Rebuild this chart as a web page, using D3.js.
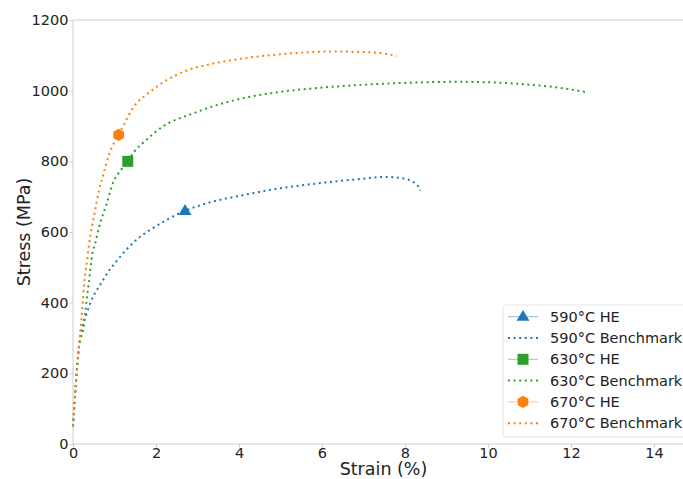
<!DOCTYPE html>
<html>
<head>
<meta charset="utf-8">
<script src="https://cdn.jsdelivr.net/npm/d3@7"></script>
<style>
  body { margin: 0; background: #fff; }
  svg { font-family: "DejaVu Sans", sans-serif; }
</style>
</head>
<body>
<svg id="chart" width="683" height="479"></svg>
<script>
// benchmark curves (strain %, stress MPa)
const strain590 = [0, 0.07, 0.14, 0.22, 0.33, 0.43, 0.55, 0.70, 0.85, 1.04, 1.21, 1.5, 1.86, 2.3, 2.7, 3.3, 4.0, 5.0, 6.0, 7.0, 7.5, 7.9, 8.19, 8.3, 8.37]
const stress590 = [50, 172, 271, 330, 370, 403, 431, 459, 488, 516, 540, 575, 606, 637, 660, 684, 702, 724, 739, 751, 756, 753, 742, 733, 717]

const strain630 = [0, 0.07, 0.14, 0.19, 0.27, 0.31, 0.38, 0.47, 0.54, 0.63, 0.80, 0.96, 1.16, 1.32, 1.48, 1.76, 2.16, 2.9, 3.46, 4.19, 5.47, 6.5, 8.0, 9.24, 10.2, 11.08, 11.8, 12.36]
const stress630 = [50, 172, 271, 300, 341, 389, 455, 540, 570, 615, 676, 738, 776, 800, 828, 860, 898, 936, 959, 981, 1003, 1013, 1022, 1025, 1023, 1016, 1007, 996]

const strain670 = [0, 0.07, 0.14, 0.19, 0.23, 0.27, 0.33, 0.39, 0.51, 0.63, 0.75, 0.88, 1.10, 1.24, 1.44, 1.86, 2.26, 2.74, 3.30, 3.86, 4.27, 5.0, 6.23, 7.07, 7.5, 7.8]
const stress670 = [50, 172, 271, 337, 393, 455, 511, 568, 648, 719, 771, 823, 875, 907, 950, 997, 1030, 1057, 1075, 1087, 1094, 1103, 1111, 1109, 1105, 1098]

// HE single points
const heStrain = [2.7, 1.32, 1.10]
const heStress = [660, 800, 875]

const temps = ['590°C', '630°C', '670°C']
const colors = ['#1f77b4', '#2ca02c', '#ff7f0e']
const markerTypes = ['triangle', 'square', 'hexagon']

const xTicks = [0, 2, 4, 6, 8, 10, 12, 14]
const yTicks = [0, 200, 400, 600, 800, 1000, 1200]

const svg = d3.select('#chart')
const margin = { left: 73, top: 20, right: 0, bottom: 35 }
const width = 683, height = 479

// the axes box runs a little past the window's right edge
let x = d3.scaleLinear().domain([0, 14.7]).range([margin.left, width])
let y = d3.scaleLinear().domain([0, 1200]).range([height - margin.bottom, margin.top])

const spine = '#cccccc'

// axes
let xAxis = svg.append('g')
  .attr('transform', `translate(0,${y(0)})`)
  .call(d3.axisBottom(x).tickValues(xTicks).tickFormat(d3.format('d')).tickSize(3.5).tickPadding(0.5))
let yAxis = svg.append('g')
  .attr('transform', `translate(${x(0)},0)`)
  .call(d3.axisLeft(y).tickValues(yTicks).tickFormat(d3.format('d')).tickSize(3.5).tickPadding(1))

;[xAxis, yAxis].forEach(ax => {
  ax.select('.domain').remove()
  ax.selectAll('.tick line').attr('stroke', spine)
  ax.selectAll('.tick text')
    .attr('fill', '#222')
    .attr('font-size', 14.5)
    .attr('font-family', '"DejaVu Sans", sans-serif')
})

// spines: left, bottom, top
svg.append('line').attr('x1', x(0)).attr('x2', x(0)).attr('y1', y(0)).attr('y2', y(1200))
  .attr('stroke', spine).attr('stroke-width', 1)
svg.append('line').attr('x1', x(0)).attr('x2', width).attr('y1', y(0)).attr('y2', y(0))
  .attr('stroke', spine).attr('stroke-width', 1)
svg.append('line').attr('x1', x(0)).attr('x2', width).attr('y1', y(1200)).attr('y2', y(1200))
  .attr('stroke', spine).attr('stroke-width', 1)

// axis titles
svg.append('text')
  .attr('x', 383.5)
  .attr('y', 475)
  .attr('text-anchor', 'middle')
  .attr('font-size', 17.5)
  .attr('fill', '#222')
  .text('Strain (%)')
svg.append('text')
  .attr('transform', `translate(30,${(y(0) + y(1200)) / 2}) rotate(-90)`)
  .attr('text-anchor', 'middle')
  .attr('font-size', 17.5)
  .attr('fill', '#222')
  .text('Stress (MPa)')

// curves
const benches = [
  strain590.map((s, i) => [s, stress590[i]]),
  strain630.map((s, i) => [s, stress630[i]]),
  strain670.map((s, i) => [s, stress670[i]])
]

let line = d3.line()
  .x(d => x(d[0]))
  .y(d => y(d[1]))
  .curve(d3.curveMonotoneX)

const dash = '2,3.6'

svg.append('g').attr('class', 'lines')
  .selectAll('path')
  .data(benches)
  .enter().append('path')
  .attr('d', line)
  .attr('fill', 'none')
  .attr('stroke', (d, i) => colors[i])
  .attr('stroke-width', 2)
  .attr('stroke-dasharray', dash)

function markerPath(type, size) {
  if (type === 'triangle') {
    let r = size * 0.62
    return `M0,${-r}L${r * 0.95},${r * 0.6}L${-r * 0.95},${r * 0.6}Z`
  }
  if (type === 'square') {
    let h = size / 2
    return `M${-h},${-h}H${h}V${h}H${-h}Z`
  }
  // hexagon, pointy top
  let r = size * 0.56
  let pts = d3.range(6).map(k => {
    let a = Math.PI / 2 + k * Math.PI / 3
    return [r * Math.cos(a), -r * Math.sin(a)]
  })
  return 'M' + pts.map(p => p.join(',')).join('L') + 'Z'
}

svg.append('g').attr('class', 'markers')
  .selectAll('path')
  .data(heStrain.map((s, i) => ({ s, v: heStress[i], i })))
  .enter().append('path')
  .attr('transform', d => `translate(${x(d.s)},${y(d.v)})`)
  .attr('d', d => markerPath(markerTypes[d.i], 11))
  .attr('fill', d => colors[d.i])

// legend
let legend = svg.append('g').attr('class', 'legend')
legend.append('rect')
  .attr('x', 503).attr('y', 305)
  .attr('width', 200).attr('height', 132)
  .attr('rx', 3)
  .attr('fill', '#fff').attr('fill-opacity', 0.8)
  .attr('stroke', '#e6e6e6')

let entries = []
temps.forEach((t, i) => {
  entries.push({ label: t + ' HE', i, kind: 'he' })
  entries.push({ label: t + ' Benchmark', i, kind: 'bench' })
})

let rows = legend.selectAll('g.row')
  .data(entries)
  .enter().append('g')
  .attr('class', 'row')
  .attr('transform', (d, k) => `translate(0,${316.7 + k * 21.3})`)

rows.filter(d => d.kind === 'he').append('line')
  .attr('x1', 508).attr('x2', 538)
  .attr('stroke', d => colors[d.i]).attr('stroke-opacity', 0.5)
  .attr('stroke-width', 1)
rows.filter(d => d.kind === 'he').append('path')
  .attr('transform', 'translate(523,0)')
  .attr('d', d => markerPath(markerTypes[d.i], 11))
  .attr('fill', d => colors[d.i])
rows.filter(d => d.kind === 'bench').append('line')
  .attr('x1', 508).attr('x2', 538)
  .attr('stroke', d => colors[d.i])
  .attr('stroke-width', 2)
  .attr('stroke-dasharray', dash)
rows.append('text')
  .attr('x', 550).attr('y', 5)
  .attr('font-size', 14.5)
  .attr('fill', '#222')
  .text(d => d.label)
</script>
</body>
</html>
